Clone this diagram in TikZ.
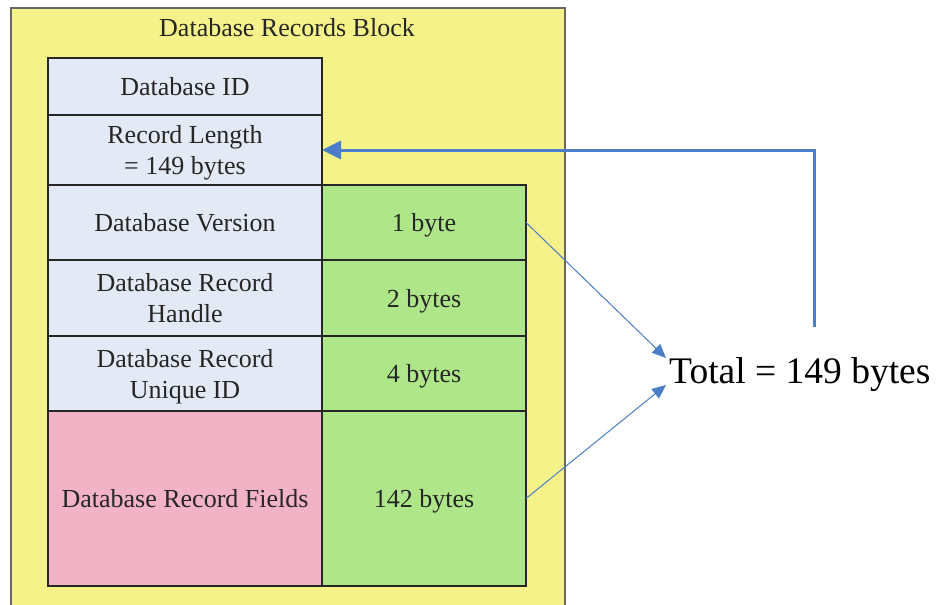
\documentclass[tikz,border=0pt]{standalone}
\usepackage{fontspec}
\setmainfont{Liberation Serif}
\usetikzlibrary{positioning,arrows.meta}
\definecolor{blockyellow}{RGB}{245,242,138}
\definecolor{cellblue}{RGB}{227,234,245}
\definecolor{cellgreen}{RGB}{174,230,137}
\definecolor{cellpink}{RGB}{242,179,198}
\definecolor{linkblue}{RGB}{74,126,201}
\begin{document}
\begin{tikzpicture}[x=1pt, y=-1pt,
    cell/.style={rectangle,draw=black!85,line width=1.3pt,outer sep=0pt,inner sep=2pt,align=center,text depth=0pt,font=\fontsize{26}{31}\selectfont,text=black!85},
    namecell/.style={cell,fill=cellblue,minimum width=274pt},
    sizecell/.style={cell,fill=cellgreen,minimum width=204pt},
    link/.style={-{Triangle[length=14pt,width=12pt]},linkblue,line width=1pt}]
    \useasboundingbox (0,0) rectangle (938,605);
    \node[draw=black!60,line width=1.6pt,fill=blockyellow,minimum width=554pt,minimum height=600pt,anchor=north west,outer sep=0pt] (block) at (11,8) {};
    \node[font=\fontsize{26}{31}\selectfont,text=black!85] (title) at (287,28) {Database Records Block};
    \node[namecell,minimum height=57pt,anchor=north west] (dbid) at (48,58) {Database ID};
    \node[namecell,minimum height=70pt,below=0pt of dbid] (reclen) {Record Length\\= 149 bytes};
    \node[namecell,minimum height=75pt,below=0pt of reclen] (version) {Database Version};
    \node[namecell,minimum height=76pt,below=0pt of version] (handle) {Database Record\\Handle};
    \node[namecell,minimum height=75pt,below=0pt of handle] (uniqueid) {Database Record\\Unique ID};
    \node[namecell,fill=cellpink,minimum height=175pt,below=0pt of uniqueid] (fields) {Database Record Fields};
    \node[sizecell,minimum height=75pt,right=0pt of version] (versize) {1 byte};
    \node[sizecell,minimum height=76pt,right=0pt of handle] (handlesize) {2 bytes};
    \node[sizecell,minimum height=75pt,right=0pt of uniqueid] (uidsize) {4 bytes};
    \node[sizecell,minimum height=175pt,right=0pt of fields] (fieldsize) {142 bytes};
    \node[anchor=west,inner sep=0pt,font=\fontsize{37.5}{45}\selectfont] (total) at (669,375) {Total = 149 bytes};
    \coordinate (fbstart) at (814,327);
    \draw[link,line width=3pt,-{Triangle[length=19pt,width=18pt]}] (fbstart) |- (reclen.east);
    \draw[link] (versize.east) -- ([xshift=-3pt,yshift=17pt]total.west);
    \draw[link] (fieldsize.east) -- ([xshift=-3pt,yshift=-10pt]total.west);
\end{tikzpicture}
\end{document}
